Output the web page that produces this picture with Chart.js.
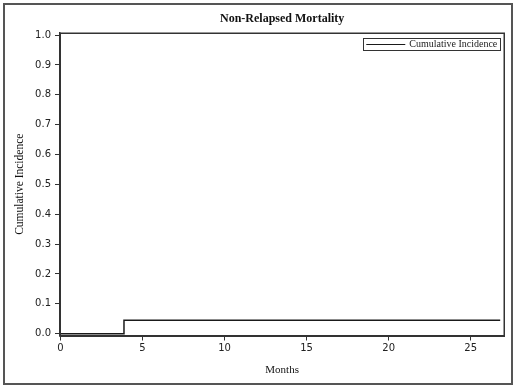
<!DOCTYPE html>
<html>
<head>
<meta charset="utf-8">
<script src="https://cdn.jsdelivr.net/npm/chart.js@4"></script>
<style>
  html, body { margin: 0; padding: 0; background: #fff; }
  canvas { display: block; }
</style>
</head>
<body>
<canvas id="c" width="520" height="390"></canvas>
<script>
// ---- data ----
const chartTitle = 'Non-Relapsed Mortality';
const xAxisTitle = 'Months';
const yAxisTitle = 'Cumulative Incidence';
const seriesLabel = 'Cumulative Incidence';
const months = [0, 3.87, 26.8];
const cumIncidence = [0, 0.045, 0.045];
const xTicks = [0, 5, 10, 15, 20, 25];
const xTickLabels = ['0', '5', '10', '15', '20', '25'];
const yTicks = [0, 0.1, 0.2, 0.3, 0.4, 0.5, 0.6, 0.7, 0.8, 0.9, 1.0];
const yTickLabels = ['0.0', '0.1', '0.2', '0.3', '0.4', '0.5', '0.6', '0.7', '0.8', '0.9', '1.0'];

const points = months.map((m, i) => ({ x: m, y: cumIncidence[i] }));

const frameColor = '#333';
const tickFont = { family: 'DejaVu Sans', size: 10 };
const serif = 'Liberation Serif';

const decorPlugin = {
  id: 'decor',
  beforeDraw(chart) {
    const ctx = chart.ctx;
    ctx.save();
    ctx.fillStyle = '#fff';
    ctx.fillRect(0, 0, chart.width, chart.height);
    ctx.strokeStyle = '#555';
    ctx.lineWidth = 2;
    ctx.strokeRect(4, 4, 508, 380);
    ctx.restore();
  },
  afterDraw(chart) {
    const ctx = chart.ctx;
    const a = chart.chartArea;
    ctx.save();
    // plot frame
    ctx.strokeStyle = frameColor;
    ctx.lineWidth = 1.5;
    ctx.strokeRect(Math.round(a.left) + 0.25, Math.round(a.top) + 0.25, Math.round(a.right - a.left), Math.round(a.bottom - a.top));
    // legend box
    const ds = chart.data.datasets[0];
    ctx.font = '10px "' + serif + '"';
    const tw = ctx.measureText(ds.label).width;
    const lineLen = 39;
    const boxW = 3 + lineLen + 4 + tw + 3;
    const boxH = 12;
    const right = a.right - 4;
    const left = right - boxW;
    const top = a.top + 4.5;
    ctx.lineWidth = 1;
    ctx.strokeStyle = '#333';
    ctx.strokeRect(Math.round(left) + 0.5, Math.round(top) + 0.5, Math.round(boxW), boxH);
    ctx.beginPath();
    ctx.lineWidth = 1.2;
    ctx.strokeStyle = ds.borderColor;
    const ly = Math.round(top + boxH / 2) + 0.5;
    ctx.moveTo(left + 3, ly);
    ctx.lineTo(left + 3 + lineLen, ly);
    ctx.stroke();
    ctx.fillStyle = '#222';
    ctx.textBaseline = 'middle';
    ctx.textAlign = 'left';
    ctx.fillText(ds.label, left + 3 + lineLen + 4, top + boxH / 2 + 0.5);
    ctx.restore();
  }
};

new Chart(document.getElementById('c'), {
  type: 'line',
  data: {
    datasets: [{
      label: seriesLabel,
      data: points,
      stepped: 'before',
      borderColor: '#1a1a1a',
      borderWidth: 1.5,
      pointRadius: 0,
      fill: false
    }]
  },
  options: {
    responsive: false,
    animation: false,
    layout: { padding: { left: 0, right: 15.7, top: 0, bottom: 0 } },
    plugins: {
      legend: { display: false },
      tooltip: { enabled: false },
      title: {
        display: true,
        text: chartTitle,
        fullSize: false,
        color: '#111',
        font: { family: serif, size: 12, weight: 'bold', lineHeight: 1.2 },
        padding: { top: 11.8, bottom: 6.8 }
      }
    },
    scales: {
      x: {
        type: 'linear',
        min: -0.03,
        max: 27.05,
        afterFit(scale) { scale.height = 54.5; },
        afterBuildTicks(scale) { scale.ticks = xTicks.map(v => ({ value: v })); },
        ticks: {
          color: '#222',
          font: tickFont,
          padding: 2,
          maxRotation: 0,
          autoSkip: false,
          callback: (v, i) => xTickLabels[i]
        },
        grid: { drawOnChartArea: false, drawTicks: true, tickLength: 5, color: frameColor, lineWidth: 1 },
        border: { display: true, color: frameColor, width: 1.5 },
        title: {
          display: true,
          text: xAxisTitle,
          color: '#111',
          font: { family: serif, size: 11, lineHeight: 1.2 },
          padding: { top: 0, bottom: 13.4 }
        }
      },
      y: {
        type: 'linear',
        min: -0.006,
        max: 1.007,
        afterFit(scale) { scale.width = 60; },
        afterBuildTicks(scale) { scale.ticks = yTicks.map(v => ({ value: v })); },
        ticks: {
          color: '#222',
          font: tickFont,
          padding: 4,
          autoSkip: false,
          callback: (v, i) => yTickLabels[i]
        },
        grid: { drawOnChartArea: false, drawTicks: true, tickLength: 5, color: frameColor, lineWidth: 1 },
        border: { display: true, color: frameColor, width: 1.5 },
        title: {
          display: true,
          text: yAxisTitle,
          color: '#111',
          font: { family: serif, size: 11.5, lineHeight: 1.2 },
          padding: { top: 13.1, bottom: 0 }
        }
      }
    }
  },
  plugins: [decorPlugin]
});
</script>
</body>
</html>
